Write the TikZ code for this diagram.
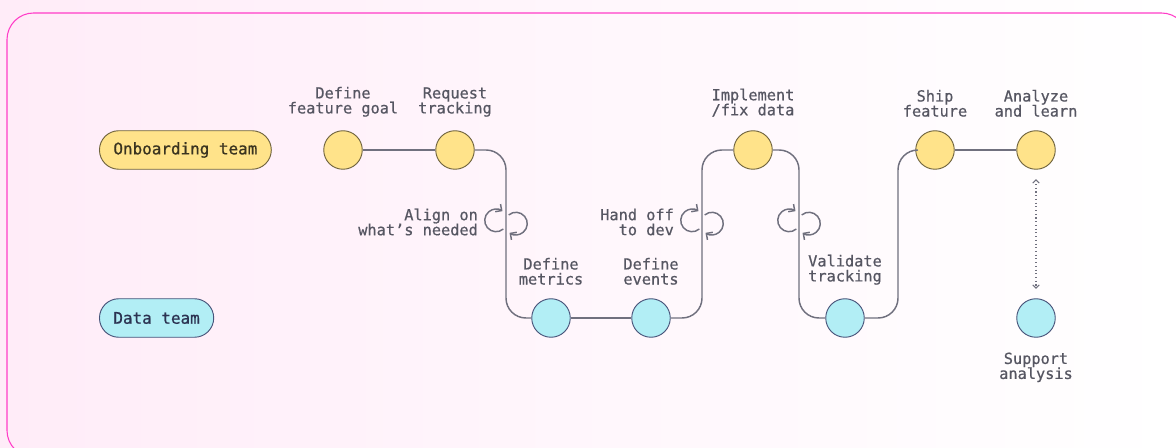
\documentclass[tikz,border=0pt]{standalone}
\usepackage{fontspec}
\setmonofont{DejaVu Sans Mono}
\newfontfamily\stepfont[FakeBold=0.6]{DejaVu Sans Mono}
\newfontfamily\teamfont[FakeBold=0.9]{DejaVu Sans Mono}
\usepackage{tikz}
\usetikzlibrary{arrows.meta,positioning}
\definecolor{bgpink}{RGB}{255,236,248}
\definecolor{frame}{RGB}{255,60,200}
\definecolor{obyellow}{RGB}{255,227,138}
\definecolor{obedge}{RGB}{112,100,62}
\definecolor{obtext}{RGB}{58,52,32}
\definecolor{dtblue}{RGB}{178,238,245}
\definecolor{dtedge}{RGB}{72,84,122}
\definecolor{dttext}{RGB}{44,51,82}
\definecolor{wire}{RGB}{112,112,126}
\definecolor{ink}{RGB}{86,86,98}

\begin{document}
\begin{tikzpicture}[x=0.02646cm,y=-0.02646cm,
  team/.style={draw,rounded corners=14.5pt,minimum height=29pt,inner xsep=10.5pt,
    line width=0.7pt,font=\teamfont\fontsize{12}{12}\selectfont},
  dot/.style={circle,draw,minimum size=29pt,inner sep=0pt,line width=0.7pt},
  obdot/.style={dot,fill=obyellow,draw=obedge},
  dtdot/.style={dot,fill=dtblue,draw=dtedge},
  tag/.style={font=\stepfont\fontsize{11.5}{11.3}\selectfont,text=ink,align=center,inner sep=1pt},
  flow/.style={draw=wire,line width=1.1pt,rounded corners=15pt},
  link/.style={draw=wire,line width=0.8pt,dotted,shorten >=7pt,shorten <=7pt,
    {Straight Barb[length=2.5pt,width=5pt]}-{Straight Barb[length=2.5pt,width=5pt]}},
  loopy/.pic={
    \draw[wire,line width=1.1pt,-{Straight Barb[length=3.5pt,width=7pt]}]
      (-7.5pt,1.2pt) ++(-50:8.5pt) arc[start angle=-50,end angle=-305,radius=8.5pt];
    \draw[wire,line width=1.1pt,-{Straight Barb[length=3.5pt,width=7pt]}]
      (7.5pt,-1.2pt) ++(130:8.5pt) arc[start angle=130,end angle=-125,radius=8.5pt];
  }
]
  % Panel
  \clip (0,0) rectangle (1176,448);
  \shade[left color=bgpink,right color=white,middle color=bgpink!45] (0,0) rectangle (1176,448);
  \draw[frame,line width=0.8pt,rounded corners=20pt] (7,13) rectangle (1188,457);
  % Teams
  \node[team,anchor=west,fill=obyellow,draw=obedge,text=obtext] (onb) at (99,150) {Onboarding team};
  \node[team,anchor=west,fill=dtblue,draw=dtedge,text=dttext] (data) at (99,318) {Data team};
  % Steps
  \node[obdot] (goal) at (343,150) {};
  \node[obdot] (req) at (455,150) {};
  \node[dtdot] (metrics) at (551,318) {};
  \node[dtdot] (events) at (651,318) {};
  \node[obdot] (impl) at (753,150) {};
  \node[dtdot] (valid) at (845,318) {};
  \node[obdot] (ship) at (935,150) {};
  \node[obdot] (learn) at (1036,150) {};
  \node[dtdot] (support) at (1036,318) {};
  \coordinate (loopA) at (506,222);
  \coordinate (loopB) at (702,222);
  \coordinate (loopC) at (799,222);
  \coordinate (rise) at (898,234);
  % Step labels
  \node[tag,above=9pt of goal] (goalT) {Define\\feature goal};
  \node[tag,above=9pt of req] (reqT) {Request\\tracking};
  \node[tag,above=9pt of metrics] (metricsT) {Define\\metrics};
  \node[tag,above=9pt of events] (eventsT) {Define\\events};
  \node[tag,above=9pt of impl] (implT) {Implement\\/fix data};
  \node[tag,above=9pt of valid] (validT) {Validate\\tracking};
  \node[tag,above=9pt of ship] (shipT) {Ship\\feature};
  \node[tag,above=9pt of learn] (learnT) {Analyze\\and learn};
  \node[tag,below=10pt of support] (supportT) {Support\\analysis};
  \node[tag,align=right,left=20pt of loopA] (alignT) {Align on\\what’s needed};
  \node[tag,align=right,left=20pt of loopB] (handT) {Hand off\\to dev};
  % Connectors
  \draw[flow] (goal) -- (req);
  \draw[flow] (req) -| (loopA) |- (metrics);
  \draw[flow] (metrics) -- (events);
  \draw[flow] (events) -| (loopB) |- (impl);
  \draw[flow] (impl) -| (loopC) |- (valid);
  \draw[flow] (valid) -| (rise) |- (ship);
  \draw[flow] (ship) -- (learn);
  \draw[link] (learn) -- (support);
  \pic at (loopA) {loopy};
  \pic at (loopB) {loopy};
  \pic at (loopC) {loopy};
\end{tikzpicture}
\end{document}
